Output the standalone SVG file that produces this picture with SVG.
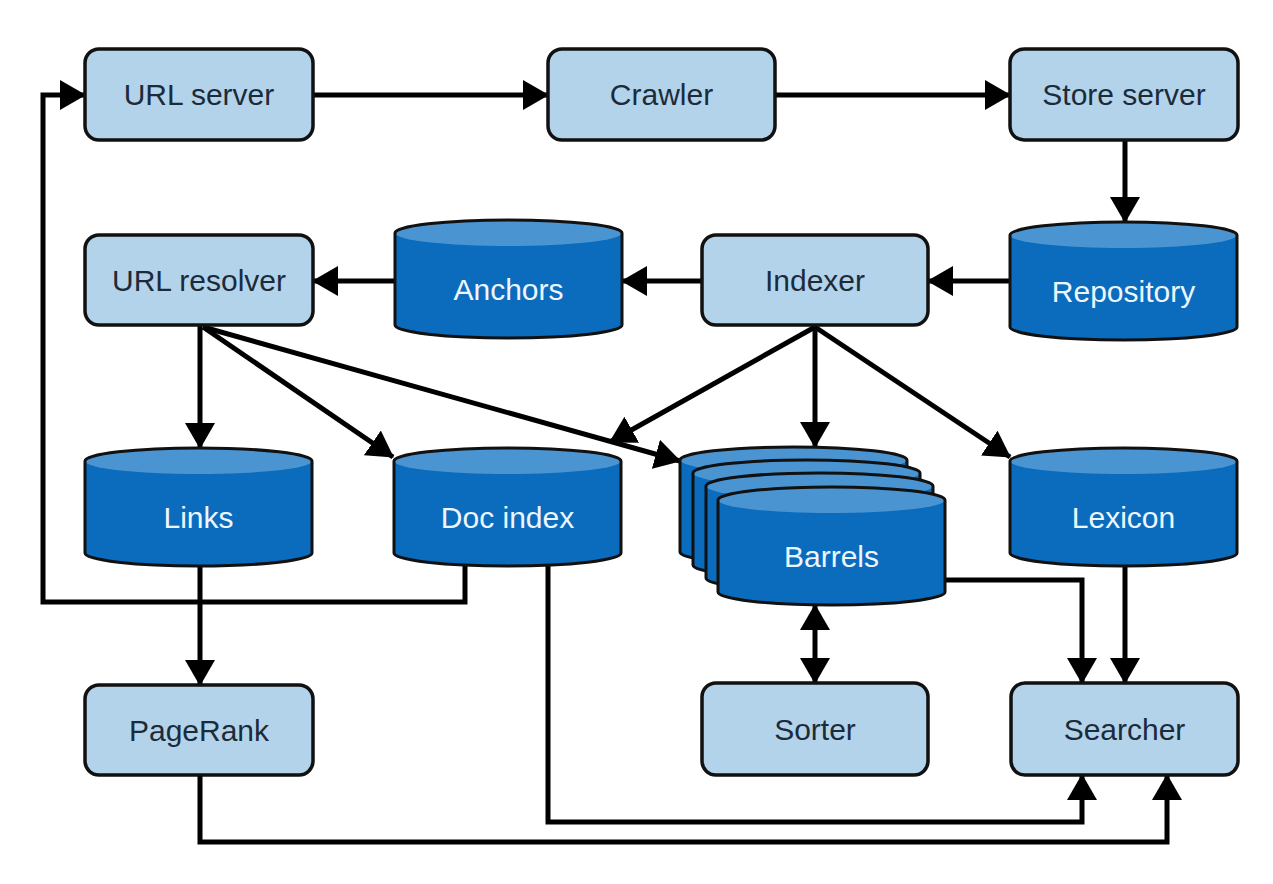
<svg xmlns="http://www.w3.org/2000/svg" xmlns:xlink="http://www.w3.org/1999/xlink" width="1273" height="884" viewBox="0 0 1273 884">
<style>
.box{fill:#b3d3eb;stroke:#111;stroke-width:3.5}
.lbl{font-family:"Liberation Sans",Arial,sans-serif;font-size:30px;fill:#1c2b3a;text-anchor:middle}
.clbl{font-family:"Liberation Sans",Arial,sans-serif;font-size:30px;fill:#eef6fd;text-anchor:middle}
.body{fill:#0b6cbe}
.top{fill:#4a94d2}
.sil{fill:none;stroke:#111;stroke-width:3}
.conn{fill:none;stroke:#000;stroke-width:5;stroke-linejoin:miter}
.arr{marker-end:url(#ah)}
</style>
<defs>
<marker id="ah" viewBox="0 0 26 30" refX="25" refY="15" markerWidth="26" markerHeight="30" markerUnits="userSpaceOnUse" orient="auto">
<path d="M0,0 L26,15 L0,30 Z" fill="#000"/>
</marker>
<marker id="ahs" viewBox="0 0 26 30" refX="25" refY="15" markerWidth="26" markerHeight="30" markerUnits="userSpaceOnUse" orient="auto-start-reverse">
<path d="M0,0 L26,15 L0,30 Z" fill="#000"/>
</marker>
<g id="cyl">
<path class="body" d="M0,13 A113.5,13 0 0 1 227,13 V105 A113.5,13 0 0 1 0,105 Z"/>
<ellipse class="top" cx="113.5" cy="13" rx="113.5" ry="13"/>
<path class="sil" d="M0,13 A113.5,13 0 0 1 227,13 V105 A113.5,13 0 0 1 0,105 Z"/>
</g>
</defs>
<rect width="1273" height="884" fill="#fff"/>

<g id="connectors">
<path class="conn arr" d="M313,95 H548"/>
<path class="conn arr" d="M775,95 H1010"/>
<path class="conn arr" d="M1125,140 V222"/>
<path class="conn arr" d="M1010,281 H928"/>
<path class="conn arr" d="M702,281 H622"/>
<path class="conn arr" d="M395,281 H313"/>
<path class="conn arr" d="M200,326 V448"/>
<path class="conn arr" d="M203,327 L393,457"/>
<path class="conn arr" d="M203,327 L680,461"/>
<path class="conn arr" d="M815,327 L610,442"/>
<path class="conn arr" d="M815,326 V447"/>
<path class="conn arr" d="M815,327 L1010,457"/>
<path class="conn arr" d="M200,565 V685"/>
<path class="conn arr" d="M465,565 V602 H43 V95 H85"/>
<path class="conn arr" d="M548,565 V822 H1082 V775"/>
<path class="conn arr" d="M200,775 V842 H1167 V775"/>
<path class="conn arr" d="M945,580 H1082 V683"/>
<path class="conn arr" d="M1125,565 V683"/>
<path class="conn" style="marker-start:url(#ahs);marker-end:url(#ah)" d="M815,605 V683"/>
</g>

<g id="url-server"><rect class="box" x="85" y="49" width="228" height="91" rx="14"/><text class="lbl" x="199" y="105">URL server</text></g>
<g id="crawler"><rect class="box" x="548" y="49" width="227" height="91" rx="14"/><text class="lbl" x="661.5" y="105">Crawler</text></g>
<g id="store-server"><rect class="box" x="1010" y="49" width="228" height="91" rx="14"/><text class="lbl" x="1124" y="105">Store server</text></g>
<g id="url-resolver"><rect class="box" x="85" y="235" width="228" height="90" rx="14"/><text class="lbl" x="199" y="291">URL resolver</text></g>
<g id="indexer"><rect class="box" x="702" y="235" width="226" height="90" rx="14"/><text class="lbl" x="815" y="291">Indexer</text></g>
<g id="pagerank"><rect class="box" x="85" y="685" width="228" height="90" rx="14"/><text class="lbl" x="199" y="741">PageRank</text></g>
<g id="sorter"><rect class="box" x="702" y="683" width="226" height="92" rx="14"/><text class="lbl" x="815" y="740">Sorter</text></g>
<g id="searcher"><rect class="box" x="1011" y="683" width="227" height="92" rx="14"/><text class="lbl" x="1124.5" y="740">Searcher</text></g>

<g id="anchors"><use xlink:href="#cyl" x="395" y="220"/><text class="clbl" x="508.5" y="300">Anchors</text></g>
<g id="repository"><use xlink:href="#cyl" x="1010" y="222"/><text class="clbl" x="1123.5" y="302">Repository</text></g>
<g id="links"><use xlink:href="#cyl" x="85" y="448"/><text class="clbl" x="198.5" y="528">Links</text></g>
<g id="doc-index"><use xlink:href="#cyl" x="394" y="448"/><text class="clbl" x="507.5" y="528">Doc index</text></g>
<g id="lexicon"><use xlink:href="#cyl" x="1010" y="448"/><text class="clbl" x="1123.5" y="528">Lexicon</text></g>
<g id="barrels">
<use xlink:href="#cyl" x="680" y="447"/>
<use xlink:href="#cyl" x="693" y="460"/>
<use xlink:href="#cyl" x="706" y="473"/>
<use xlink:href="#cyl" x="718" y="487"/>
<text class="clbl" x="831.5" y="567">Barrels</text>
</g>
</svg>
